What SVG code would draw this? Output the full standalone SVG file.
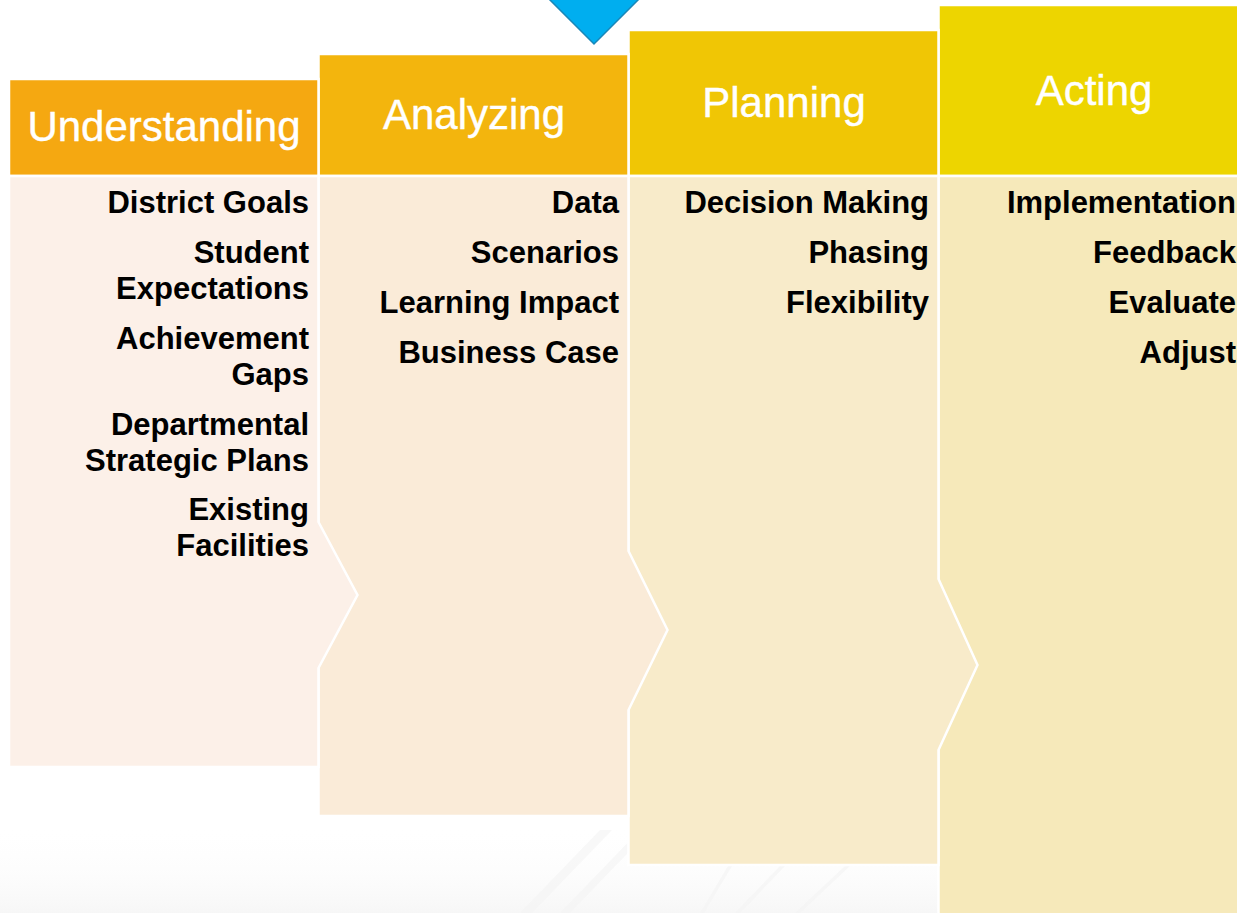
<svg xmlns="http://www.w3.org/2000/svg" width="1237" height="913" viewBox="0 0 1237 913">
  <defs>
    <style>
      .sep { stroke: #FFFFFF; stroke-width: 2.5; stroke-linejoin: miter; }
      .head { font-family: "Liberation Sans", Arial, sans-serif; font-size: 42px; fill: #FFFFFF; text-anchor: middle; stroke: #FFFFFF; stroke-width: 0.4; }
      .item { font-family: "Liberation Sans", Arial, sans-serif; font-size: 31px; font-weight: bold; fill: #000000; text-anchor: end; }
      .streak { fill: #F3F3F3; opacity: 0.6; }
    </style>
    <linearGradient id="fade" x1="0" y1="0" x2="0" y2="1">
      <stop offset="0" stop-color="#FFFFFF" stop-opacity="0"/>
      <stop offset="1" stop-color="#F3F3F3" stop-opacity="1"/>
    </linearGradient>
    <linearGradient id="fadeH" x1="0" y1="0" x2="1" y2="0">
      <stop offset="0" stop-color="#FFFFFF" stop-opacity="1"/>
      <stop offset="0.5" stop-color="#FFFFFF" stop-opacity="0.5"/>
      <stop offset="1" stop-color="#FFFFFF" stop-opacity="0"/>
    </linearGradient>
  </defs>

  <rect x="0" y="0" width="1237" height="913" fill="#FFFFFF"/>

  <!-- faint background streaks -->
  <g id="background">
    <rect x="0" y="825" width="940" height="88" fill="url(#fade)" opacity="0.7"/>
    <polygon class="streak" points="520,913 600,830 612,830 532,913"/>
    <polygon class="streak" points="560,913 640,830 650,830 570,913"/>
    <polygon class="streak" points="700,913 728,866 732,866 704,913"/>
    <polygon class="streak" points="735,913 780,866 785,866 740,913"/>
    <polygon class="streak" points="795,913 845,866 850,866 800,913"/>
  </g>

  <g id="connectors"/>

  <!-- Acting -->
  <g id="acting">
    <rect class="sep" x="938.5" y="5" width="302" height="171" fill="#EDD500"/>
    <rect class="sep" x="938.5" y="176" width="302" height="740" fill="#F6E9BA"/>
    <text class="head" x="1094" y="105">Acting</text>
    <text class="item" x="1236" y="213">Implementation</text>
    <text class="item" x="1236" y="263">Feedback</text>
    <text class="item" x="1236" y="313">Evaluate</text>
    <text class="item" x="1236" y="363">Adjust</text>
  </g>

  <!-- Planning -->
  <g id="planning">
    <rect class="sep" x="628.5" y="30" width="310" height="146" fill="#F0C605"/>
    <polygon class="sep" points="628.5,176 938.5,176 938.5,579 977.5,665 938.5,750 938.5,865 628.5,865" fill="#F8EBCA"/>
    <text class="head" x="784" y="117">Planning</text>
    <text class="item" x="929" y="213">Decision Making</text>
    <text class="item" x="929" y="263">Phasing</text>
    <text class="item" x="929" y="313">Flexibility</text>
  </g>

  <!-- Analyzing -->
  <g id="analyzing">
    <rect class="sep" x="318.5" y="54" width="310" height="122" fill="#F3B50D"/>
    <polygon class="sep" points="318.5,176 628.5,176 628.5,551 667.5,630 628.5,710 628.5,816 318.5,816" fill="#FAEBD8"/>
    <text class="head" x="474" y="129">Analyzing</text>
    <text class="item" x="619" y="213">Data</text>
    <text class="item" x="619" y="263">Scenarios</text>
    <text class="item" x="619" y="313">Learning Impact</text>
    <text class="item" x="619" y="363">Business Case</text>
  </g>

  <!-- Understanding -->
  <g id="understanding">
    <rect class="sep" x="9" y="79" width="309.5" height="97" fill="#F5A811"/>
    <polygon class="sep" points="9,176 318.5,176 318.5,522 357.5,595 318.5,668 318.5,767 9,767" fill="#FCF0E8"/>
    <text class="head" x="164" y="141">Understanding</text>
    <text class="item" x="309" y="213">District Goals</text>
    <text class="item" x="309" y="263">Student</text>
    <text class="item" x="309" y="299">Expectations</text>
    <text class="item" x="309" y="349">Achievement</text>
    <text class="item" x="309" y="385">Gaps</text>
    <text class="item" x="309" y="435">Departmental</text>
    <text class="item" x="309" y="471">Strategic Plans</text>
    <text class="item" x="309" y="520">Existing</text>
    <text class="item" x="309" y="556">Facilities</text>
  </g>

  <!-- blue pointer -->
  <g id="pointer">
    <polygon points="548,-2 640,-2 594,44" fill="#00AEEF" stroke="#1A87B8" stroke-width="1.5" stroke-linejoin="miter"/>
  </g>
</svg>
